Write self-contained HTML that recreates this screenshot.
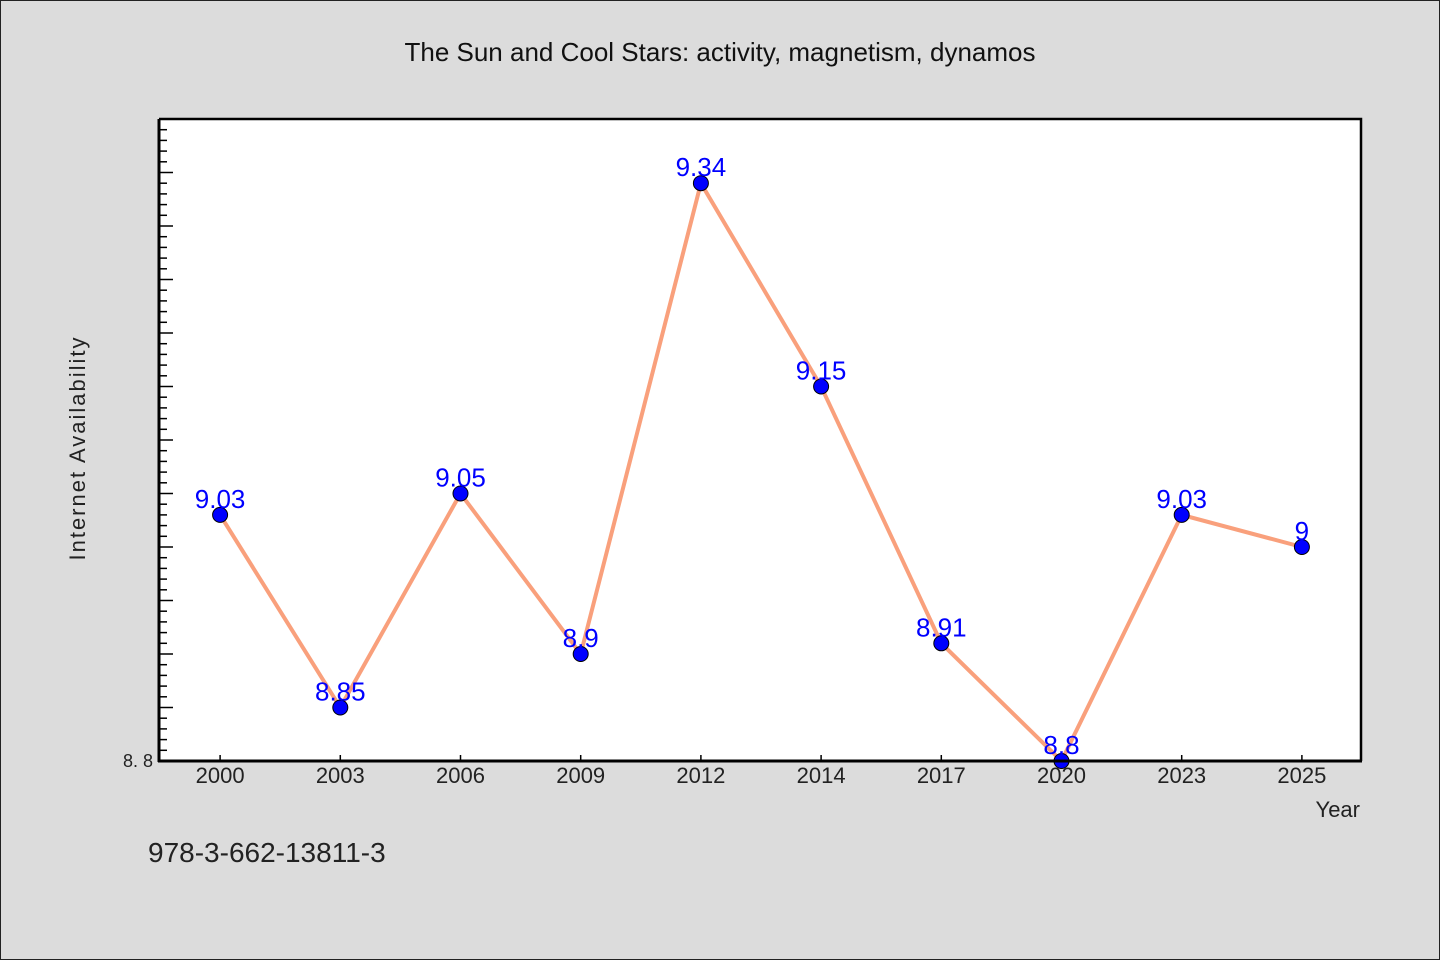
<!DOCTYPE html>
<html><head><meta charset="utf-8"><style>
html,body{margin:0;padding:0;background:#dcdcdc;}
svg{display:block;font-family:"WenQuanYi Zen Hei","Liberation Sans",sans-serif;}
</style></head><body>
<svg id="chart" width="1440" height="960" xmlns="http://www.w3.org/2000/svg">
<rect x="0.5" y="0.5" width="1439" height="959" fill="#dcdcdc" stroke="#222"/>
<text x="720" y="61" text-anchor="middle" font-size="26" fill="#111">The Sun and Cool Stars: activity, magnetism, dynamos</text>
<rect x="159" y="119" width="1202" height="642" fill="#fff"/>
<g id="axes"></g>
<g id="marks"></g>
<polyline points="159,119 1361,119 1361,761" fill="none" stroke="#000" stroke-width="2.5"/>
<line x1="159" y1="119" x2="159" y2="762" stroke="#000" stroke-width="3"/>
<line x1="158" y1="761" x2="1362" y2="761" stroke="#000" stroke-width="3"/>
<text x="85" y="448" text-anchor="middle" font-size="22" fill="#222" letter-spacing="2" transform="rotate(-90 85 448)">Internet Availability</text>
<text x="1360" y="817" text-anchor="end" font-size="22" fill="#222">Year</text>
<text x="148" y="862" font-size="28" fill="#222">978-3-662-13811-3</text>
</svg>
<script>
const categories = ["2000","2003","2006","2009","2012","2014","2017","2020","2023","2025"];
const values = [9.03,8.85,9.05,8.9,9.34,9.15,8.91,8.8,9.03,9.0];
const valueLabels = ["9.03","8.85","9.05","8.9","9.34","9.15","8.91","8.8","9.03","9"];
const yMin = 8.8, yMax = 9.4;
const yTickLabels = ["8.8"];
const NS = "http://www.w3.org/2000/svg";
const L = 159, R = 1361, T = 119, B = 761;
const band = (R - L) / categories.length;
function xs(i){ return L + 1 + band * (i + 0.5); }
function ys(v){ return B - (v - yMin) / (yMax - yMin) * (B - T); }
function mk(tag, attrs, parent){ const e = document.createElementNS(NS, tag); for (const k in attrs) e.setAttribute(k, attrs[k]); parent.appendChild(e); return e; }
const axes = document.getElementById("axes"), marks = document.getElementById("marks");
for (let k = 0; k <= 60; k++) {
  const v = yMin + k * 0.01, y = ys(v), major = k % 5 === 0;
  const t = mk("line", {x1: L, x2: L + (major ? 14 : 8), y1: y, y2: y, stroke: "#000", "stroke-width": 1.5}, axes);
  
  
}
yTickLabels.forEach(s => {
  const t = mk("text", {x: 153, y: ys(parseFloat(s)) + 6, "text-anchor": "end", "font-size": 18, fill: "#222"}, axes);
  t.textContent = s.replace(".", ". ");
  
  
});
categories.forEach((c, i) => {
  const t = mk("line", {x1: xs(i), x2: xs(i), y1: B, y2: B - 6, stroke: "#000", "stroke-width": 1.5}, axes);
  
  
  const l = mk("text", {x: xs(i), y: 783, "text-anchor": "middle", "font-size": 22, fill: "#222"}, axes);
  l.textContent = c;
  
  
});
const line = mk("polyline", {points: values.map((v, i) => xs(i) + "," + ys(v)).join(" "), fill: "none", stroke: "#f9a07c", "stroke-width": 4}, marks);


values.forEach((v, i) => {
  const p = mk("circle", {cx: xs(i), cy: ys(v), r: 7.5, fill: "#0000ff", stroke: "#000", "stroke-width": 1}, marks);
  
  
  const l = mk("text", {x: xs(i), y: ys(v) - 7, "text-anchor": "middle", "font-size": 26, fill: "#0000ff"}, marks);
  l.textContent = valueLabels[i];
  
  
});
</script>
</body></html>
